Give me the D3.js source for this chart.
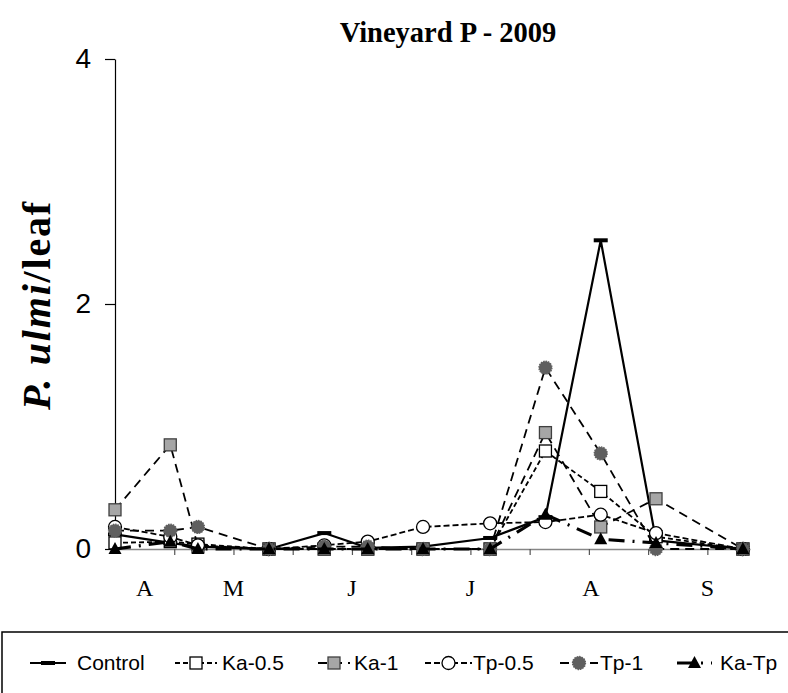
<!DOCTYPE html>
<html>
<head>
<meta charset="utf-8">
<script src="https://cdn.jsdelivr.net/npm/d3@7"></script>
<style>
  body { margin: 0; background: #fff; }
  svg { display: block; }
</style>
</head>
<body>
<div id="chart"></div>
<script>
// sampling dates, in days from the start of the x axis (early April)
var days = [0, 14, 21, 39, 53, 64, 78, 95, 109, 123, 137, 159];

var control = [0.12, 0.05, 0.02, 0.00, 0.13, 0.01, 0.02, 0.09, 0.26, 2.52, 0.07, 0.00];
var ka05    = [0.05, 0.06, 0.04, 0.00, 0.00, 0.00, 0.00, 0.00, 0.80, 0.47, 0.10, 0.00];
var ka1     = [0.32, 0.85, 0.02, 0.00, 0.00, 0.00, 0.00, 0.00, 0.95, 0.18, 0.41, 0.00];
var tp05    = [0.18, 0.10, 0.03, 0.00, 0.03, 0.06, 0.18, 0.21, 0.22, 0.28, 0.13, 0.00];
var tp1     = [0.15, 0.15, 0.18, 0.00, 0.02, 0.02, 0.00, 0.00, 1.48, 0.78, 0.00, 0.00];
var kaTp    = [0.00, 0.06, 0.00, 0.00, 0.00, 0.00, 0.00, 0.00, 0.28, 0.08, 0.05, 0.00];

var seriesNames = ["Control", "Ka-0.5", "Ka-1", "Tp-0.5", "Tp-1", "Ka-Tp"];
var monthLabels = ["A", "M", "J", "J", "A", "S"];
var monthDays = [7.5, 30, 60, 90, 120.5, 150];
var yTicks = [0, 2, 4];

var svgWidth = 788;
var svgHeight = 693;
var margin = {top: 59, left: 115};
var width = 635;
var height = 490;

var svg = d3.select("#chart")
  .append("svg")
  .attr("width", svgWidth)
  .attr("height", svgHeight);

var chart = svg.append("g")
  .attr("transform", `translate(${margin.left}, ${margin.top})`);

var x = d3.scaleLinear().domain([0, 160.8]).range([0, width]);
var y = d3.scaleLinear().domain([0, 4]).range([height, 0]);

// title
svg.append("text")
  .attr("x", 448)
  .attr("y", 42)
  .attr("text-anchor", "middle")
  .style("font-family", "'Liberation Serif', 'Times New Roman', serif")
  .style("font-weight", "bold")
  .style("font-size", "28.5px")
  .text("Vineyard P - 2009");

// y axis
var yAxis = chart.append("g")
  .call(d3.axisLeft(y).tickValues(yTicks).tickFormat(d3.format("d"))
    .tickSize(10).tickSizeOuter(0).tickPadding(14));
yAxis.select(".domain").attr("stroke", "#000").attr("stroke-width", 1.2);
yAxis.selectAll(".tick line").attr("stroke", "#000").attr("stroke-width", 1.2);
yAxis.selectAll(".tick text")
  .style("font-family", "'Liberation Sans', Arial, sans-serif")
  .style("font-size", "28px")
  .attr("fill", "#000");

// y axis title
var yTitle = svg.append("text")
  .attr("transform", "translate(50, 305) rotate(-90)")
  .attr("text-anchor", "middle")
  .style("font-family", "'Liberation Serif', 'Times New Roman', serif")
  .style("font-weight", "bold")
  .style("font-size", "40px")
  .style("letter-spacing", "1.8px");
yTitle.append("tspan").style("font-style", "italic").text("P. ulmi");
yTitle.append("tspan").text("/leaf");

// x axis
var xAxis = chart.append("g")
  .attr("transform", `translate(0, ${height})`)
  .call(d3.axisBottom(x).tickValues(d3.range(15, 160, 15)).tickSize(6).tickSizeOuter(0).tickFormat(""));
xAxis.select(".domain").attr("stroke", "#868686").attr("stroke-width", 1.5);
xAxis.selectAll(".tick line").attr("stroke", "#555").attr("stroke-width", 1.2);

chart.append("g")
  .selectAll("text")
  .data(monthLabels)
  .enter()
  .append("text")
  .attr("x", (d, i) => x(monthDays[i]))
  .attr("y", height + 47)
  .attr("text-anchor", "middle")
  .style("font-family", "'Liberation Serif', 'Times New Roman', serif")
  .style("font-size", "24px")
  .text(d => d);

// series styles
var styles = [
  {values: control, dash: null, width: 2.2, marker: "dash", fill: "#000", stroke: "#000"},
  {values: ka05, dash: "5,3", width: 1.8, marker: "square", fill: "#fff", stroke: "#000"},
  {values: ka1, dash: "9,6", width: 1.8, marker: "square", fill: "#a6a6a6", stroke: "#404040"},
  {values: tp05, dash: "6,3", width: 1.8, marker: "circle", fill: "#fff", stroke: "#000"},
  {values: tp1, dash: "9,6", width: 1.8, marker: "circle", fill: "#5f5f5f", stroke: "#5f5f5f"},
  {values: kaTp, dash: "16,8,2,8", width: 3.2, marker: "triangle", fill: "#000", stroke: "#000"}
];

var line = d3.line()
  .x(d => x(d.day))
  .y(d => y(d.value));

function drawMarker(g, s, px, py) {
  if (s.marker === "square") {
    g.append("rect")
      .attr("x", px - 6).attr("y", py - 6)
      .attr("width", 12).attr("height", 12)
      .attr("fill", s.fill).attr("stroke", s.stroke).attr("stroke-width", 1.3);
  } else if (s.marker === "circle") {
    g.append("circle")
      .attr("cx", px).attr("cy", py).attr("r", 6.5)
      .attr("fill", s.fill).attr("stroke", s.stroke).attr("stroke-width", 1.3)
      .attr("stroke-dasharray", s.fill === "#fff" ? null : "1.5,1");
  } else if (s.marker === "triangle") {
    g.append("path")
      .attr("d", `M${px},${py - 7}L${px + 6.5},${py + 5}L${px - 6.5},${py + 5}Z`)
      .attr("fill", s.fill);
  } else {
    g.append("rect")
      .attr("x", px - 7).attr("y", py - 2)
      .attr("width", 14).attr("height", 4)
      .attr("fill", s.fill);
  }
}

styles.forEach(function(s) {
  var pts = days.map((d, i) => ({day: d, value: s.values[i]}));
  var g = chart.append("g");
  g.append("path")
    .datum(pts)
    .attr("d", line)
    .attr("fill", "none")
    .attr("stroke", "#000")
    .attr("stroke-width", s.width)
    .attr("stroke-dasharray", s.dash);
  pts.forEach(function(p) {
    drawMarker(g, s, x(p.day), y(p.value));
  });
});

// legend
svg.append("rect")
  .attr("x", 2)
  .attr("y", 632)
  .attr("width", 800)
  .attr("height", 80)
  .attr("fill", "none")
  .attr("stroke", "#000")
  .attr("stroke-width", 1.5);

var legendSample = [[30, 66], [175, 217], [318, 350], [425, 472], [560, 598], [677, 712]];
var legendText = [77, 222, 354, 473, 600, 720];
var legendY = 663;
styles.forEach(function(s, i) {
  var g = svg.append("g");
  var x0 = legendSample[i][0], x1 = legendSample[i][1];
  g.append("line")
    .attr("x1", x0).attr("x2", x1)
    .attr("y1", legendY).attr("y2", legendY)
    .attr("stroke", "#000")
    .attr("stroke-width", s.width)
    .attr("stroke-dasharray", s.dash);
  drawMarker(g, s, (x0 + x1) / 2, legendY);
  g.append("text")
    .attr("x", legendText[i])
    .attr("y", legendY + 7)
    .style("font-family", "'Liberation Sans', Arial, sans-serif")
    .style("font-size", "21px")
    .text(seriesNames[i]);
});
</script>
</body>
</html>
